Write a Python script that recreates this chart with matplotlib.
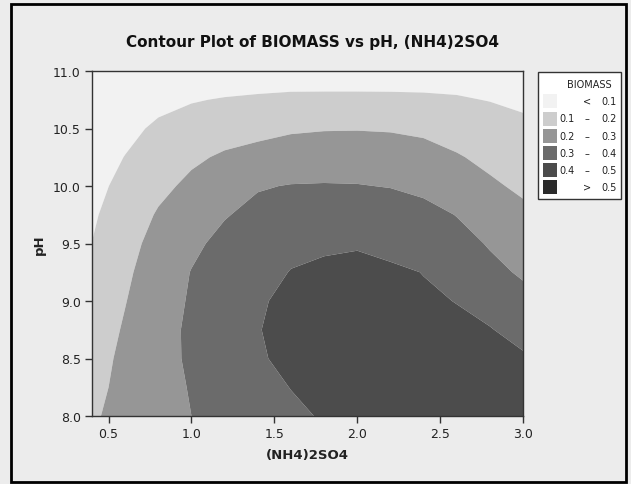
import numpy as np
import matplotlib
matplotlib.use("Agg")
import matplotlib.pyplot as plt
from matplotlib.patches import Rectangle

# ---- data: BIOMASS on a grid ----
nh4so4 = [0.4, 0.6, 0.8, 1.0, 1.2, 1.4, 1.6, 1.8, 2.0, 2.2, 2.4, 2.6, 2.8, 3.0]
ph = [8.0, 8.25, 8.5, 8.75, 9.0, 9.25, 9.5, 9.75, 10.0, 10.25, 10.5, 10.75, 11.0]

biomass_ph8_00 = [0.190, 0.227, 0.264, 0.300, 0.327, 0.355, 0.382, 0.408, 0.425, 0.437, 0.445, 0.448, 0.448, 0.445]
biomass_ph8_25 = [0.178, 0.222, 0.265, 0.306, 0.338, 0.370, 0.402, 0.420, 0.432, 0.440, 0.445, 0.445, 0.440, 0.430]
biomass_ph8_50 = [0.167, 0.218, 0.268, 0.314, 0.351, 0.393, 0.415, 0.422, 0.430, 0.435, 0.435, 0.432, 0.422, 0.410]
biomass_ph8_75 = [0.151, 0.209, 0.266, 0.316, 0.356, 0.398, 0.415, 0.418, 0.420, 0.418, 0.414, 0.408, 0.404, 0.373]
biomass_ph9_00 = [0.138, 0.197, 0.256, 0.310, 0.349, 0.395, 0.410, 0.412, 0.414, 0.412, 0.406, 0.399, 0.370, 0.329]
biomass_ph9_25 = [0.125, 0.185, 0.245, 0.303, 0.337, 0.370, 0.403, 0.410, 0.412, 0.408, 0.399, 0.370, 0.325, 0.288]
biomass_ph9_50 = [0.101, 0.173, 0.227, 0.281, 0.325, 0.358, 0.378, 0.392, 0.396, 0.386, 0.370, 0.335, 0.292, 0.253]
biomass_ph9_75 = [0.088, 0.148, 0.2085, 0.251, 0.294, 0.325, 0.345, 0.357, 0.360, 0.352, 0.334, 0.297, 0.258, 0.219]
biomass_ph10_00 = [0.075, 0.124, 0.178, 0.219, 0.258, 0.293, 0.304, 0.306, 0.304, 0.296, 0.275, 0.245, 0.213, 0.185]
biomass_ph10_25 = [0.064, 0.102, 0.143, 0.185, 0.212, 0.226, 0.241, 0.249, 0.250, 0.245, 0.232, 0.207, 0.180, 0.151]
biomass_ph10_50 = [0.055, 0.080, 0.113, 0.140, 0.162, 0.178, 0.190, 0.195, 0.196, 0.193, 0.184, 0.165, 0.142, 0.118]
biomass_ph10_75 = [0.050, 0.063, 0.079, 0.094, 0.106, 0.114, 0.120, 0.122, 0.122, 0.120, 0.115, 0.108, 0.097, 0.085]
biomass_ph11_00 = [0.030, 0.035, 0.035, 0.038, 0.040, 0.044, 0.048, 0.045, 0.045, 0.048, 0.055, 0.060, 0.060, 0.060]

levels = [0.1, 0.2, 0.3, 0.4, 0.5]
legend_labels = [("", "<", "0.1"), ("0.1", "\u2013", "0.2"), ("0.2", "\u2013", "0.3"),
                 ("0.3", "\u2013", "0.4"), ("0.4", "\u2013", "0.5"), ("", ">", "0.5")]
x_ticks = [0.5, 1.0, 1.5, 2.0, 2.5, 3.0]
y_ticks = [8.0, 8.5, 9.0, 9.5, 10.0, 10.5, 11.0]

band_colors = ["#F2F2F2", "#CDCDCD", "#969696", "#6B6B6B", "#4C4C4C", "#2B2B2B"]

Z = np.array([biomass_ph8_00, biomass_ph8_25, biomass_ph8_50, biomass_ph8_75,
              biomass_ph9_00, biomass_ph9_25, biomass_ph9_50, biomass_ph9_75,
              biomass_ph10_00, biomass_ph10_25, biomass_ph10_50, biomass_ph10_75,
              biomass_ph11_00])
X, Y = np.meshgrid(nh4so4, ph)

W, H = 631, 485
fig = plt.figure(figsize=(W / 100, H / 100), dpi=100)
fig.patch.set_facecolor("#ECECEC")

def fx(px):
    return px / W

def fy(py):
    return 1 - py / H

# outer black frame
fig.patches.append(Rectangle((fx(11), fy(483)), fx(626) - fx(11), fy(5) - fy(483),
                             transform=fig.transFigure, fill=False, edgecolor="black",
                             linewidth=2.0, zorder=0))

ax = fig.add_axes([fx(92), fy(417), fx(523) - fx(92), fy(72) - fy(417)])
all_levels = [-1.0] + levels + [2.0]
ax.contourf(X, Y, Z, levels=all_levels, colors=band_colors, antialiased=True)
ax.set_xlim(0.4, 3.0)
ax.set_ylim(8.0, 11.0)
ax.set_xticks(x_ticks)
ax.set_yticks(y_ticks)
ax.set_xticklabels([f"{v:.1f}" for v in x_ticks])
ax.set_yticklabels([f"{v:.1f}" for v in y_ticks])
ax.tick_params(direction="out", length=5, width=1, color="#333333",
               labelsize=9, labelcolor="#222222", pad=3)
for s in ax.spines.values():
    s.set_color("#333333")
    s.set_linewidth(1.0)

ax.set_xlabel("(NH4)2SO4", fontsize=9.5, fontweight="bold", color="#222222", labelpad=6)
ax.set_ylabel("pH", fontsize=9.5, fontweight="bold", color="#222222", labelpad=5)
fig.text(fx(313), fy(42), "Contour Plot of BIOMASS vs pH, (NH4)2SO4", ha="center", va="center",
         fontsize=11, fontweight="bold", color="#111111")

# legend box
fig.patches.append(Rectangle((fx(538), fy(200)), fx(621) - fx(538), fy(73) - fy(200),
                             transform=fig.transFigure, facecolor="white", edgecolor="#333333",
                             linewidth=1.0))
fig.text(fx(589), fy(85), "BIOMASS", ha="center", va="center", fontsize=7, color="#222222")
row_y = [102, 119.5, 137, 154, 171, 188]
for (lo, sign, hi), col, ry in zip(legend_labels, band_colors, row_y):
    fig.patches.append(Rectangle((fx(543), fy(ry + 7)), fx(557) - fx(543), fy(ry - 7) - fy(ry + 7),
                                 transform=fig.transFigure, facecolor=col, edgecolor="none"))
    if lo:
        fig.text(fx(575), fy(ry), lo, ha="right", va="center", fontsize=7, color="#222222")
    fig.text(fx(587), fy(ry), sign, ha="center", va="center", fontsize=7, color="#222222")
    fig.text(fx(617), fy(ry), hi, ha="right", va="center", fontsize=7, color="#222222")

fig.savefig("out.png", dpi=100, facecolor=fig.get_facecolor())
